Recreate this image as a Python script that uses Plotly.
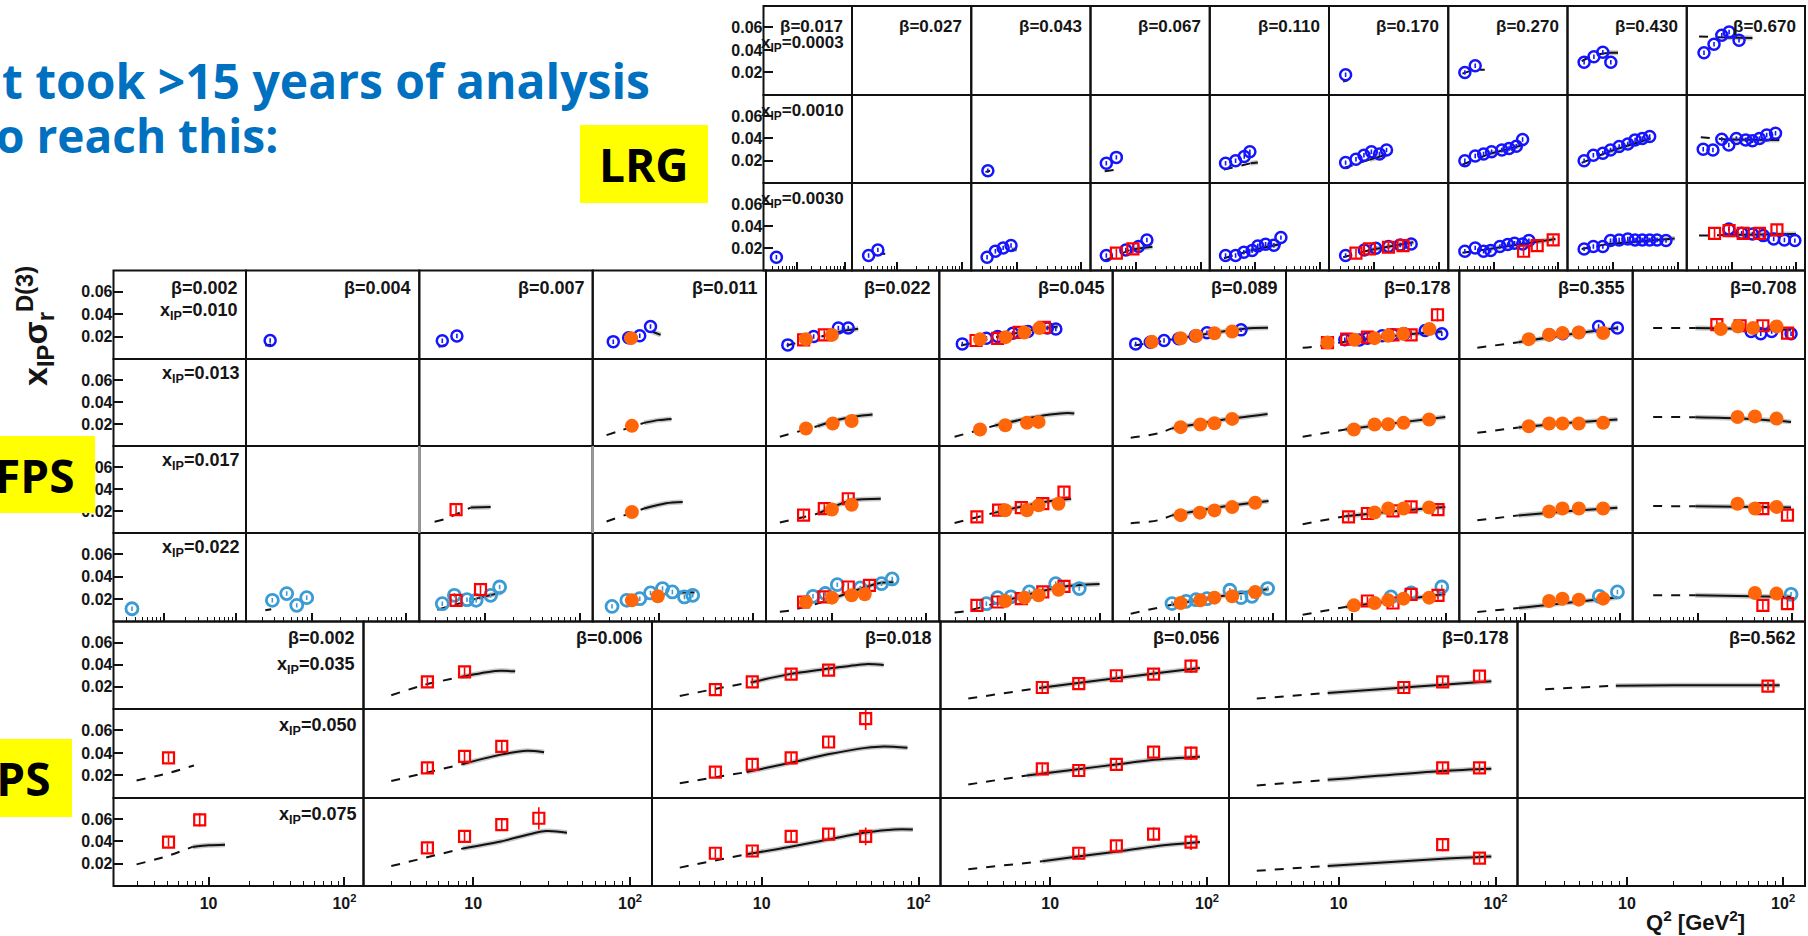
import plotly.graph_objects as go

FIG_W, FIG_H = 1808, 936

# Pixel geometry of the three panel grids (column and row edges)
TOP_X = [763.5, 852, 971.25, 1090.5, 1209.75, 1329, 1448.25, 1567.5, 1686.75, 1805]
TOP_Y = [6, 95, 183, 270.5]
MID_X = [113.5, 246, 419.3, 592.7, 766, 939.3, 1112.7, 1286, 1459.3, 1632.7, 1805]
MID_Y = [270.5, 359, 446, 533, 621.5]
BOT_X = [113.5, 363.5, 652, 940.5, 1229, 1517.5, 1805]
BOT_Y = [621.5, 709, 798, 886]

XLOG_RANGE = [0.30, 2.14]
Y_RANGE = [0.0, 0.079]
SPLIT_Q2 = 7.0   # fit curve drawn dashed below this Q2, solid above

# ---------------- labels ----------------
TOP_BETA = ["0.017", "0.027", "0.043", "0.067", "0.110", "0.170", "0.270", "0.430", "0.670"]
TOP_XIP = ["0.0003", "0.0010", "0.0030"]
MID_BETA = ["0.002", "0.004", "0.007", "0.011", "0.022", "0.045", "0.089", "0.178", "0.355", "0.708"]
MID_XIP = ["0.010", "0.013", "0.017", "0.022"]
BOT_BETA = ["0.002", "0.006", "0.018", "0.056", "0.178", "0.562"]
BOT_XIP = ["0.035", "0.050", "0.075"]
Y_TICKS = [0.02, 0.04, 0.06]
Y_TICK_TEXT = ["0.02", "0.04", "0.06"]
X_MAJOR = [10, 100]
X_MAJOR_TEXT = ["10", "10<sup>2</sup>"]
X_MINOR = [2, 3, 4, 5, 6, 7, 8, 9, 20, 30, 40, 50, 60, 70, 80, 90]

# ---------------- data: (Q2, x_IP*sigma_r[, error]) per (row, col) ----------------
TOP_LRG = {
    (0, 5): [(3.6, 0.018)],
    (0, 6): [(3.6, 0.020), (5.2, 0.026)],
    (0, 7): [(3.6, 0.029), (5.1, 0.034), (7.0, 0.038), (9.3, 0.029)],
    (0, 8): [(3.7, 0.0375), (5.3, 0.045), (7.0, 0.053), (9.1, 0.056), (13, 0.0486)],
    (1, 2): [(3.6, 0.011)],
    (1, 3): [(3.5, 0.0177), (5.0, 0.023)],
    (1, 4): [(3.5, 0.0177), (5.0, 0.020), (6.8, 0.0237), (8.3, 0.028)],
    (1, 5): [(3.6, 0.0183), (5.2, 0.0213), (6.9, 0.025), (9.0, 0.028), (12, 0.026), (15.4, 0.0297)],
    (1, 6): [(3.6, 0.020), (5.2, 0.0243), (7.0, 0.026), (9.3, 0.028), (13.4, 0.0297), (17.3, 0.031),
             (22.4, 0.033), (28, 0.039)],
    (1, 7): [(3.6, 0.020), (5.0, 0.025), (7.0, 0.0267), (9.2, 0.0297), (12.5, 0.0327), (17, 0.035),
             (22, 0.0387), (28.5, 0.040), (37, 0.0417)],
    (1, 8): [(3.6, 0.0303), (5.1, 0.0297), (7.0, 0.0393), (9.0, 0.0342), (11.8, 0.040), (16.5, 0.0387),
             (21, 0.038), (27, 0.040), (35, 0.043), (48, 0.0447)],
    (2, 0): [(3.7, 0.012)],
    (2, 1): [(3.6, 0.0135), (5.0, 0.0186)],
    (2, 2): [(3.5, 0.012), (4.7, 0.0174), (6.2, 0.0204), (8.2, 0.0225)],
    (2, 3): [(3.5, 0.0135), (7.0, 0.0186), (11, 0.0216), (14.8, 0.0276)],
    (2, 4): [(3.5, 0.0135), (5.0, 0.0135), (6.7, 0.0165), (9.0, 0.018), (11, 0.0222), (14.5, 0.0237),
             (19.5, 0.0228), (25, 0.0297)],
    (2, 5): [(3.6, 0.0135), (7.0, 0.0186), (10.5, 0.020), (16.5, 0.0216), (25, 0.023), (37, 0.024)],
    (2, 6): [(3.6, 0.0174), (5.2, 0.0204), (7.0, 0.0174), (9.0, 0.018), (12.5, 0.0216), (16.5, 0.0234),
             (21, 0.0246), (28, 0.024), (35, 0.027)],
    (2, 7): [(3.6, 0.0195), (5.0, 0.0216), (7.0, 0.0216), (9.2, 0.027), (12.5, 0.0276), (17, 0.0285),
             (22, 0.0276), (28.5, 0.0276), (37, 0.0276), (48, 0.0276), (66, 0.027)],
    (2, 8): [(9.0, 0.0375), (14.3, 0.0336), (21, 0.033), (31, 0.0315), (45, 0.0285), (66, 0.0276),
             (96, 0.027)],
}
TOP_FPS = {
    (2, 3): [(5.0, 0.0156, 0.004), (9.0, 0.0195, 0.004)],
    (2, 5): [(5.2, 0.0156, 0.004), (8.4, 0.0195, 0.004), (16.5, 0.021, 0.004), (27.7, 0.0225, 0.004)],
    (2, 6): [(29, 0.0174, 0.004), (47, 0.0225, 0.004), (83, 0.0276, 0.004)],
    (2, 8): [(5.4, 0.0336, 0.004), (9.1, 0.036, 0.004), (15.1, 0.0336, 0.004), (27, 0.0336, 0.004),
             (50.5, 0.0366, 0.005)],
}
TOP_FIT = {
    (0, 5): [(3.3, 0.012), (3.9, 0.013)],
    (0, 6): [(3.3, 0.019), (5.0, 0.022), (7.3, 0.0225)],
    (0, 7): [(3.3, 0.030), (5.0, 0.035), (8.5, 0.0375), (12, 0.0375)],
    (0, 8): [(3.1, 0.052), (8.5, 0.051), (21, 0.0505)],
    (1, 2): [(3.3, 0.010), (3.9, 0.011)],
    (1, 3): [(3.3, 0.0105), (5.8, 0.0125)],
    (1, 4): [(3.3, 0.012), (8.5, 0.0177), (11, 0.0185)],
    (1, 5): [(3.4, 0.0135), (8.5, 0.021), (15.4, 0.0255)],
    (1, 6): [(3.3, 0.0165), (8.5, 0.026), (28, 0.034)],
    (1, 7): [(3.3, 0.018), (8.5, 0.028), (38, 0.040)],
    (1, 8): [(3.3, 0.041), (8.5, 0.039), (55, 0.0387)],
    (2, 1): [(5.5, 0.015), (6.5, 0.0152)],
    (2, 2): [(8.4, 0.019), (10, 0.019)],
    (2, 3): [(3.3, 0.009), (8.5, 0.019), (18, 0.0215)],
    (2, 4): [(3.3, 0.011), (8.5, 0.018), (25, 0.024)],
    (2, 5): [(3.3, 0.012), (8.5, 0.0185), (40, 0.0255)],
    (2, 6): [(3.3, 0.016), (8.5, 0.0195), (90, 0.0285)],
    (2, 7): [(3.3, 0.0195), (8.5, 0.024), (90, 0.0288)],
    (2, 8): [(3.1, 0.0315), (8.5, 0.032), (100, 0.033)],
}

MID_LRG = {
    (0, 1): [(3.6, 0.0165)],
    (0, 2): [(3.5, 0.0162), (5.0, 0.0206)],
    (0, 3): [(3.3, 0.0155), (4.8, 0.019), (6.3, 0.0207), (8.2, 0.029)],
    (0, 4): [(3.4, 0.0126), (6.4, 0.020), (11.7, 0.0276), (14.9, 0.0276)],
    (0, 5): [(3.5, 0.0135), (6.3, 0.0185), (8.3, 0.0201), (12, 0.023), (17.4, 0.0246), (28, 0.0276),
             (34.4, 0.0267)],
    (0, 6): [(3.5, 0.0135), (5.0, 0.015), (7.0, 0.0165), (10, 0.018), (15, 0.0205), (20, 0.0235),
             (46, 0.026)],
    (0, 7): [(8.4, 0.0171), (12, 0.017), (14.6, 0.0186), (21, 0.0207), (27.3, 0.0216), (36, 0.0225),
             (60, 0.0255), (90, 0.0225)],
    (0, 8): [(18, 0.0216), (25, 0.0225), (37, 0.0237), (60, 0.029), (95, 0.0276)],
    (0, 9): [(36.7, 0.0246), (46.5, 0.0225), (60.8, 0.0246), (98, 0.0225)],
}
MID_FPS2 = {
    (0, 3): [(5.1, 0.0186)],
    (0, 4): [(5.3, 0.0177), (10, 0.0215)],
    (0, 5): [(5.4, 0.0177), (10.1, 0.0195), (15.9, 0.0237), (23, 0.0276)],
    (0, 6): [(5.2, 0.0153), (10.5, 0.0185), (15.4, 0.0207), (24, 0.023), (37, 0.0245)],
    (0, 7): [(5.5, 0.0147), (10.7, 0.0171), (17.4, 0.0186), (24.3, 0.0207), (35, 0.0225), (66.5, 0.0267)],
    (0, 8): [(10.9, 0.0177), (17.9, 0.0216), (24.8, 0.0231), (37, 0.0237), (67, 0.0231)],
    (0, 9): [(17.4, 0.0267), (26.6, 0.0291), (38.4, 0.0276), (68.6, 0.0291)],
    (1, 3): [(5.2, 0.0183)],
    (1, 4): [(5.3, 0.0159), (10.2, 0.0204), (16.2, 0.0227)],
    (1, 5): [(5.4, 0.015), (10, 0.0189), (17, 0.021), (22.6, 0.0219)],
    (1, 6): [(10.5, 0.0171), (17, 0.0195), (24, 0.0207), (37, 0.0246)],
    (1, 7): [(10.5, 0.015), (17.4, 0.0195), (24.3, 0.0198), (35.3, 0.021), (66, 0.024)],
    (1, 8): [(10.9, 0.018), (17.9, 0.0204), (24.8, 0.0204), (37, 0.0204), (67, 0.021)],
    (1, 9): [(26.3, 0.0263), (40.3, 0.0269), (68.5, 0.0249)],
    (2, 3): [(5.2, 0.0191)],
    (2, 4): [(10, 0.0213), (16.2, 0.0257)],
    (2, 5): [(10, 0.0207), (17, 0.0207), (22.6, 0.0251), (36.7, 0.0266)],
    (2, 6): [(10.5, 0.0162), (16.8, 0.0185), (24, 0.0205), (37, 0.0235), (65, 0.0275)],
    (2, 7): [(17.4, 0.0186), (24.3, 0.0222), (35.3, 0.0222), (66, 0.0231)],
    (2, 8): [(17.9, 0.0195), (24.8, 0.0222), (37, 0.0222), (67, 0.0222)],
    (2, 9): [(26.3, 0.0266), (40.3, 0.0222), (68.5, 0.0237)],
    (3, 3): [(5.2, 0.0189), (9.8, 0.0225)],
    (3, 4): [(5.3, 0.0174), (10, 0.0213), (16.2, 0.0234), (22.3, 0.0243)],
    (3, 5): [(10, 0.0183), (16, 0.0213), (22.6, 0.0234), (36.7, 0.0284)],
    (3, 6): [(10.5, 0.0165), (17, 0.019), (24, 0.0213), (37, 0.0225), (65, 0.0264)],
    (3, 7): [(10.5, 0.0144), (17.4, 0.0165), (24.3, 0.0189), (35.3, 0.0204), (66, 0.0213)],
    (3, 8): [(17.9, 0.0183), (24.8, 0.0204), (37, 0.0195), (67, 0.0204)],
    (3, 9): [(40.3, 0.0255), (68.5, 0.0249)],
}
MID_FPS1 = {
    (0, 4): [(5.0, 0.0171, 0.004), (8.3, 0.0215, 0.004)],
    (0, 5): [(4.9, 0.0165, 0.004), (8.3, 0.0185, 0.004), (14.1, 0.0237, 0.004), (26, 0.0282, 0.004)],
    (0, 7): [(5.5, 0.0147, 0.004), (8.8, 0.0177, 0.004), (14.6, 0.0195, 0.004), (27.3, 0.0216, 0.004),
             (42.5, 0.0216, 0.004), (81, 0.0395, 0.006)],
    (0, 9): [(15.8, 0.0306, 0.004), (28, 0.0297, 0.004), (49, 0.0297, 0.004), (90, 0.0231, 0.004)],
    (2, 2): [(4.9, 0.0213, 0.004)],
    (2, 4): [(5.0, 0.0162, 0.004), (8.3, 0.0222, 0.004), (14.9, 0.0311, 0.004)],
    (2, 5): [(5.0, 0.0147, 0.004), (8.5, 0.0207, 0.004), (14.8, 0.0231, 0.004), (25, 0.0266, 0.004),
             (42, 0.0371, 0.004)],
    (2, 7): [(9.2, 0.0147, 0.004), (14.6, 0.0177, 0.004), (27.3, 0.0201, 0.004), (42.5, 0.0237, 0.004),
             (82, 0.0213, 0.004)],
    (2, 9): [(49, 0.0222, 0.004), (89.7, 0.0162, 0.004)],
    (3, 2): [(4.9, 0.0189, 0.004), (8.9, 0.0284, 0.004)],
    (3, 4): [(5.0, 0.0174, 0.004), (8.2, 0.0219, 0.004), (14.9, 0.0308, 0.004), (25, 0.0323, 0.004)],
    (3, 5): [(5.0, 0.0144, 0.004), (8.3, 0.0174, 0.004), (14.8, 0.0204, 0.004), (25, 0.0264, 0.004),
             (42, 0.0314, 0.004)],
    (3, 7): [(14.6, 0.0183, 0.004), (27.3, 0.0165, 0.004), (42.5, 0.0243, 0.004), (82, 0.0234, 0.004)],
    (3, 9): [(49, 0.0144, 0.004), (89.7, 0.0159, 0.004)],
}
MID_LRG2 = {
    (3, 0): [(3.6, 0.0114)],
    (3, 1): [(3.8, 0.0189), (5.4, 0.0249), (6.9, 0.0144), (8.8, 0.0213)],
    (3, 2): [(3.5, 0.0159), (4.7, 0.0234), (6.4, 0.0195), (8.0, 0.0189), (11.4, 0.0234), (14.2, 0.0308)],
    (3, 3): [(3.2, 0.0135), (4.6, 0.0189), (6.3, 0.0204), (8.2, 0.0255), (11, 0.0294), (14, 0.0264),
             (18.8, 0.0219), (23, 0.0234)],
    (3, 4): [(6.3, 0.0225), (8.5, 0.025), (11.4, 0.0329), (20, 0.030), (33.6, 0.0338), (43.6, 0.038)],
    (3, 5): [(6.3, 0.0159), (8.3, 0.0213), (11.5, 0.022), (18, 0.0264), (34.3, 0.0338), (61, 0.0294)],
    (3, 6): [(8.5, 0.016), (12, 0.018), (15.3, 0.0195), (20, 0.0204), (35, 0.0279), (46, 0.0213),
             (60, 0.0225), (88, 0.0294)],
    (3, 7): [(26, 0.0219), (42.5, 0.0255), (90, 0.0308)],
    (3, 8): [(61, 0.0225), (95, 0.0264)],
    (3, 9): [(98, 0.0243)],
}
MID_FIT = {
    (0, 1): [(3.2, 0.012), (3.7, 0.013)],
    (0, 2): [(3.2, 0.011), (3.8, 0.0125)],
    (0, 3): [(8.5, 0.0245), (10.5, 0.0215)],
    (0, 4): [(3.3, 0.012), (8.5, 0.021), (13, 0.025), (19, 0.027)],
    (0, 5): [(3.4, 0.012), (8.5, 0.020), (20, 0.026), (36, 0.029)],
    (0, 6): [(3.4, 0.012), (8.5, 0.0175), (50, 0.027), (89, 0.0278)],
    (0, 7): [(3.0, 0.010), (4.4, 0.0115), (8.5, 0.0155), (30, 0.021), (90, 0.0245)],
    (0, 8): [(3.1, 0.010), (8.5, 0.015), (30, 0.022), (95, 0.0276)],
    (0, 9): [(3.3, 0.0276), (9.3, 0.0276), (30, 0.027), (98, 0.026)],
    (1, 3): [(2.8, 0.0099), (3.6, 0.0129), (7.0, 0.0210), (10, 0.0235), (13.7, 0.0246)],
    (1, 4): [(2.8, 0.0084), (7.0, 0.018), (12, 0.024), (20, 0.0275), (27, 0.0287)],
    (1, 5): [(2.9, 0.0084), (7.8, 0.0186), (15, 0.024), (30, 0.0285), (46, 0.0299), (54, 0.0295)],
    (1, 6): [(3.1, 0.0075), (6.0, 0.0114), (8.5, 0.016), (25, 0.023), (88, 0.0291)],
    (1, 7): [(3.0, 0.0084), (8.5, 0.0150), (30, 0.021), (98, 0.0264)],
    (1, 8): [(3.1, 0.012), (8.5, 0.0168), (30, 0.021), (95, 0.024)],
    (1, 9): [(3.3, 0.0263), (9.3, 0.0262), (30, 0.025), (98, 0.0219)],
    (2, 2): [(2.9, 0.0102), (3.7, 0.0125), (7.0, 0.0231), (11.4, 0.0235)],
    (2, 3): [(2.8, 0.0105), (7.0, 0.0222), (12, 0.027), (18, 0.0281)],
    (2, 4): [(2.8, 0.0095), (7.0, 0.0174), (16, 0.0295), (33, 0.0311)],
    (2, 5): [(2.9, 0.009), (7.8, 0.0185), (25, 0.028), (50, 0.0311)],
    (2, 6): [(3.1, 0.0088), (6.0, 0.0115), (8.5, 0.016), (30, 0.024), (90, 0.029)],
    (2, 7): [(3.0, 0.008), (8.5, 0.0153), (30, 0.020), (98, 0.0237)],
    (2, 8): [(3.1, 0.0115), (8.5, 0.016), (30, 0.020), (95, 0.0230)],
    (2, 9): [(3.3, 0.0245), (9.3, 0.0242), (98, 0.0232)],
    (3, 1): [(3.2, 0.010), (3.7, 0.011)],
    (3, 2): [(3.1, 0.0105), (8.5, 0.021), (15, 0.026)],
    (3, 3): [(16, 0.0258), (24, 0.0258)],
    (3, 4): [(2.8, 0.0088), (3.6, 0.0098), (8.5, 0.018), (33, 0.0345), (45, 0.035)],
    (3, 5): [(2.9, 0.008), (3.7, 0.009), (8.5, 0.017), (40, 0.031), (100, 0.0335)],
    (3, 6): [(3.1, 0.007), (8.5, 0.015), (30, 0.023), (90, 0.029)],
    (3, 7): [(3.0, 0.006), (8.5, 0.013), (30, 0.019), (98, 0.0245)],
    (3, 8): [(3.1, 0.0085), (8.5, 0.012), (30, 0.017), (95, 0.0215)],
    (3, 9): [(3.3, 0.0235), (9.3, 0.0235), (98, 0.022)],
}

BOT_FPS = {
    (0, 1): [(5.1, 0.0245, 0.004), (8.8, 0.0336, 0.004)],
    (0, 2): [(5.06, 0.0175, 0.004), (8.7, 0.0245, 0.004), (15.4, 0.0315, 0.004), (26.7, 0.0351, 0.004)],
    (0, 3): [(8.9, 0.0194, 0.004), (15.2, 0.0230, 0.004), (26.4, 0.0300, 0.004), (45.6, 0.0315, 0.004),
             (79, 0.0388, 0.006)],
    (0, 4): [(26, 0.0194, 0.004), (46, 0.0245, 0.004), (79, 0.0297, 0.004)],
    (0, 5): [(80, 0.0206, 0.004)],
    (1, 0): [(5.07, 0.0357, 0.004)],
    (1, 1): [(5.1, 0.0268, 0.004), (8.8, 0.0369, 0.004), (15.2, 0.0458, 0.005)],
    (1, 2): [(5.06, 0.0230, 0.004), (8.7, 0.0299, 0.004), (15.4, 0.0357, 0.004), (26.7, 0.0497, 0.005),
             (46, 0.0704, 0.010)],
    (1, 3): [(8.9, 0.0259, 0.004), (15.2, 0.0244, 0.004), (26.4, 0.0299, 0.004), (45.6, 0.0407, 0.004),
             (79, 0.0398, 0.006)],
    (1, 4): [(46, 0.0268, 0.004), (79, 0.0268, 0.004)],
    (2, 0): [(5.07, 0.0394, 0.004), (8.6, 0.0594, 0.006)],
    (2, 1): [(5.1, 0.0342, 0.004), (8.8, 0.0445, 0.004), (15.2, 0.0551, 0.005), (26.2, 0.0608, 0.010)],
    (2, 2): [(5.06, 0.0294, 0.004), (8.7, 0.0314, 0.004), (15.4, 0.0445, 0.004), (26.7, 0.0465, 0.005),
             (46, 0.0445, 0.008)],
    (2, 3): [(15.2, 0.0294, 0.004), (26.4, 0.0360, 0.004), (45.6, 0.0465, 0.006), (79, 0.0394, 0.007)],
    (2, 4): [(46, 0.0371, 0.006), (79, 0.0251, 0.004)],
}
BOT_FIT = {
    (0, 1): [(3.0, 0.0124), (4.8, 0.0215), (8.3, 0.029), (12.5, 0.0335), (15, 0.0345), (18.5, 0.034)],
    (0, 2): [(3.0, 0.0118), (5.0, 0.018), (8.5, 0.024), (15, 0.0315), (27, 0.0365), (46, 0.0405),
             (60, 0.0397)],
    (0, 3): [(3.0, 0.0094), (8.5, 0.019), (15, 0.0235), (27, 0.028), (46, 0.032), (90, 0.037)],
    (0, 4): [(3.0, 0.0094), (8.5, 0.0145), (26, 0.0195), (46, 0.022), (94, 0.0251)],
    (0, 5): [(3.0, 0.0179), (8.5, 0.0210), (20, 0.0215), (95, 0.0215)],
    (1, 0): [(2.95, 0.0156), (5.0, 0.022), (7.8, 0.0289)],
    (1, 1): [(3.0, 0.0151), (8.5, 0.0300), (15, 0.0385), (22, 0.042), (28.3, 0.0407)],
    (1, 2): [(3.0, 0.0131), (8.0, 0.023), (15, 0.031), (27, 0.039), (46, 0.0445), (60, 0.0458),
             (85, 0.0446)],
    (1, 3): [(3.0, 0.0120), (7.1, 0.020), (15, 0.0255), (27, 0.030), (46, 0.034), (90, 0.0367)],
    (1, 4): [(3.0, 0.0111), (8.5, 0.0161), (46, 0.024), (94, 0.0259)],
    (2, 0): [(2.95, 0.0194), (5.0, 0.027), (7.6, 0.0351), (10, 0.0365), (13.2, 0.037)],
    (2, 1): [(3.0, 0.0179), (8.6, 0.0337), (15, 0.040), (29, 0.0494), (39.6, 0.0479)],
    (2, 2): [(3.0, 0.0165), (8.0, 0.0285), (15, 0.035), (27, 0.042), (46, 0.048), (70, 0.0508),
             (92, 0.0508)],
    (2, 3): [(3.0, 0.0151), (8.9, 0.0222), (15, 0.0265), (27, 0.031), (46, 0.0355), (90, 0.0394)],
    (2, 4): [(3.0, 0.0137), (8.5, 0.0180), (46, 0.0245), (94, 0.0265)],
}

# ---------------- styles ----------------
LINE_COL = "#111111"
TXT_COL = "#151515"
FONT = "Liberation Sans, Arial, sans-serif"
BLUE = "#1414ff"
LIGHT_BLUE = "#3a9bd5"
ORANGE = "#ff660a"
RED = "#ff0000"

fig = go.Figure()
axes = {}
refs = {}
frames = []
counter = [0]


def px_x(v):
    return v / FIG_W


def px_y(v):
    return 1 - v / FIG_H


def make_panel(block, r, c, x0, x1, y0, y1, first_col, last_row, xlabels):
    counter[0] += 1
    k = counter[0]
    s = "" if k == 1 else str(k)
    xa = dict(domain=[px_x(x0), px_x(x1)], type="log", range=XLOG_RANGE, anchor="y" + s,
              showline=False, showgrid=False, zeroline=False, fixedrange=True)
    if last_row:
        xa.update(ticks="inside", tickmode="array", tickvals=X_MAJOR, ticktext=X_MAJOR_TEXT,
                  ticklen=9, tickwidth=1.5, tickcolor=LINE_COL,
                  minor=dict(ticks="inside", tickmode="array", tickvals=X_MINOR, ticklen=5,
                             tickwidth=1.3, tickcolor=LINE_COL, showgrid=False),
                  showticklabels=xlabels,
                  tickfont=dict(family=FONT, size=16, color=TXT_COL, weight="bold"),
                  ticklabelstandoff=6)
    else:
        xa.update(ticks="", showticklabels=False, minor=dict(ticks=""))
    ya = dict(domain=[px_y(y1), px_y(y0)], range=Y_RANGE, anchor="x" + s,
              showline=False, showgrid=False, zeroline=False, fixedrange=True)
    if first_col:
        ya.update(ticks="inside", tickmode="array", tickvals=Y_TICKS, ticktext=Y_TICK_TEXT,
                  ticklen=9, tickwidth=1.5, tickcolor=LINE_COL, showticklabels=True,
                  tickfont=dict(family=FONT, size=16, color=TXT_COL, weight="bold"))
    else:
        ya.update(ticks="", showticklabels=False)
    axes["xaxis" + s] = xa
    axes["yaxis" + s] = ya
    refs[(block, r, c)] = ("x" + s, "y" + s)
    # an invisible point so every subplot (and its ticks) is rendered
    fig.add_trace(go.Scatter(x=[10], y=[-1], xaxis="x" + s, yaxis="y" + s, mode="markers",
                             marker=dict(opacity=0), hoverinfo="skip"))
    frames.append(dict(type="rect", xref="paper", yref="paper", x0=px_x(x0), x1=px_x(x1),
                       y0=px_y(y1), y1=px_y(y0), line=dict(color=LINE_COL, width=2),
                       fillcolor="rgba(0,0,0,0)", layer="above"))


def build_grid(block, xs, ys, xlabels):
    nr, nc = len(ys) - 1, len(xs) - 1
    for r in range(nr):
        for c in range(nc):
            make_panel(block, r, c, xs[c], xs[c + 1], ys[r], ys[r + 1],
                       c == 0, r == nr - 1, xlabels and r == nr - 1)


build_grid("top", TOP_X, TOP_Y, False)
build_grid("mid", MID_X, MID_Y, False)
build_grid("bot", BOT_X, BOT_Y, True)


def add_curve(block, key, pts):
    xr, yr = refs[(block,) + key]
    q = [p[0] for p in pts]
    v = [p[1] for p in pts]
    n = len(q)
    # first node at or above the split: dashed up to it, solid from it onwards
    j = min([i for i in range(n) if q[i] >= SPLIT_Q2], default=n - 1)
    if q[0] < SPLIT_Q2 and j >= 1:
        fig.add_trace(go.Scatter(x=q[:j + 1], y=v[:j + 1], xaxis=xr, yaxis=yr, mode="lines",
                                 line=dict(color=LINE_COL, width=2, dash="9px,9px", shape="spline",
                                           smoothing=0.8),
                                 hoverinfo="skip"))
    if q[-1] > SPLIT_Q2 and n - j >= 2:
        qs, vs = q[j:], v[j:]
        fig.add_trace(go.Scatter(x=qs, y=vs, xaxis=xr, yaxis=yr, mode="lines",
                                 line=dict(color="rgba(0,0,0,0.22)", width=5, shape="spline",
                                           smoothing=0.8),
                                 hoverinfo="skip"))
        fig.add_trace(go.Scatter(x=qs, y=vs, xaxis=xr, yaxis=yr, mode="lines",
                                 line=dict(color=LINE_COL, width=2, shape="spline", smoothing=0.8),
                                 hoverinfo="skip"))


def add_points(block, key, pts, symbol, color, size, lw, err=None):
    xr, yr = refs[(block,) + key]
    q = [p[0] for p in pts]
    v = [p[1] for p in pts]
    e = [p[2] for p in pts] if len(pts[0]) > 2 else ([err] * len(pts) if err else None)
    marker = dict(symbol=symbol, size=size, color=color)
    if symbol.endswith("open"):
        marker["line"] = dict(color=color, width=lw)
    tr = dict(x=q, y=v, xaxis=xr, yaxis=yr, mode="markers", marker=marker, hoverinfo="skip")
    if e:
        tr["error_y"] = dict(type="data", array=e, visible=True, color=color, thickness=1.6, width=0)
    fig.add_trace(go.Scatter(**tr))


for key, pts in TOP_FIT.items():
    add_curve("top", key, pts)
for key, pts in MID_FIT.items():
    add_curve("mid", key, pts)
for key, pts in BOT_FIT.items():
    add_curve("bot", key, pts)

for key, pts in TOP_LRG.items():
    add_points("top", key, pts, "circle-open", BLUE, 11, 2.5, err=0.002)
for key, pts in MID_LRG.items():
    add_points("mid", key, pts, "circle-open", BLUE, 11, 2.5, err=0.002)
for key, pts in MID_LRG2.items():
    add_points("mid", key, pts, "circle-open", LIGHT_BLUE, 12, 2.8, err=0.002)
for key, pts in TOP_FPS.items():
    add_points("top", key, pts, "square-open", RED, 11, 2.2)
for key, pts in MID_FPS1.items():
    add_points("mid", key, pts, "square-open", RED, 11, 2.2)
for key, pts in BOT_FPS.items():
    add_points("bot", key, pts, "square-open", RED, 11, 2.2)
for key, pts in MID_FPS2.items():
    add_points("mid", key, pts, "circle", ORANGE, 14, 0)

# ---------------- annotations ----------------
ann = []


def label(text, x, y, size, xanchor="right"):
    ann.append(dict(text=text, x=px_x(x), y=px_y(y), xref="paper", yref="paper",
                    xanchor=xanchor, yanchor="middle", showarrow=False,
                    font=dict(family=FONT, size=size, color=TXT_COL, weight="bold")))


for c, b in enumerate(TOP_BETA):
    label(f"β={b}", TOP_X[c + 1] - 7, TOP_Y[0] + 20, 17)
label(f"x<sub>IP</sub>={TOP_XIP[0]}", TOP_X[1] - 6, TOP_Y[0] + 38, 17)
for r in (1, 2):
    label(f"x<sub>IP</sub>={TOP_XIP[r]}", TOP_X[1] - 6, TOP_Y[r] + 17, 17)

for c, b in enumerate(MID_BETA):
    label(f"β={b}", MID_X[c + 1] - 6, MID_Y[0] + 17.5, 18)
label(f"x<sub>IP</sub>={MID_XIP[0]}", MID_X[1] - 7, MID_Y[0] + 41, 18)
for r in (1, 2, 3):
    label(f"x<sub>IP</sub>={MID_XIP[r]}", MID_X[1] - 5, MID_Y[r] + 15.5, 18)

for c, b in enumerate(BOT_BETA):
    label(f"β={b}", BOT_X[c + 1] - 7, BOT_Y[0] + 16.5, 18)
label(f"x<sub>IP</sub>={BOT_XIP[0]}", BOT_X[1] - 8, BOT_Y[0] + 43.5, 18)
for r in (1, 2):
    label(f"x<sub>IP</sub>={BOT_XIP[r]}", BOT_X[1] - 6, BOT_Y[r] + 17.5, 18)

# axis titles
ann.append(dict(text="x<sub>IP</sub>σ<sub>r</sub><sup>D(3)</sup>", x=px_x(35), y=px_y(326),
                xref="paper", yref="paper", xanchor="center", yanchor="middle", textangle=-90,
                showarrow=False, font=dict(family=FONT, size=34, color=TXT_COL, weight="bold")))
ann.append(dict(text="Q<sup>2</sup> [GeV<sup>2</sup>]", x=px_x(1695), y=px_y(921),
                xref="paper", yref="paper", xanchor="center", yanchor="middle",
                showarrow=False, font=dict(family=FONT, size=22, color=TXT_COL, weight="bold")))

# slide heading
ann.append(dict(text="It took >15 years of analysis", x=px_x(-16), y=px_y(80), xref="paper",
                yref="paper", xanchor="left", yanchor="middle", showarrow=False,
                font=dict(family="Open Sans, sans-serif", size=48, color="#0070c0", weight="bold")))
ann.append(dict(text="to reach this:", x=px_x(-26), y=px_y(135), xref="paper",
                yref="paper", xanchor="left", yanchor="middle", showarrow=False,
                font=dict(family="Open Sans, sans-serif", size=46, color="#0070c0", weight="bold")))

# yellow tags
TAG_FONT = dict(family="Open Sans, sans-serif", size=46, color="black", weight="bold")
tags = [
    dict(type="rect", xref="paper", yref="paper", x0=px_x(580), x1=px_x(708), y0=px_y(203),
         y1=px_y(125), fillcolor="#ffff00", line=dict(width=0), layer="below"),
    dict(type="rect", xref="paper", yref="paper", x0=px_x(-5), x1=px_x(95), y0=px_y(513),
         y1=px_y(436), fillcolor="#ffff00", line=dict(width=0), layer="above"),
    dict(type="rect", xref="paper", yref="paper", x0=px_x(-5), x1=px_x(72), y0=px_y(817),
         y1=px_y(739), fillcolor="#ffff00", line=dict(width=0), layer="above"),
]
# lighter frame edges of one FPS panel
grey_edges = [
    dict(type="line", xref="paper", yref="paper", x0=px_x(419.3), x1=px_x(419.3), y0=px_y(533),
         y1=px_y(446), line=dict(color="#9a9a9a", width=2.5), layer="above"),
    dict(type="line", xref="paper", yref="paper", x0=px_x(592.7), x1=px_x(592.7), y0=px_y(533),
         y1=px_y(446), line=dict(color="#9a9a9a", width=2.5), layer="above"),
]
ann.append(dict(text="LRG", x=px_x(644), y=px_y(164), xref="paper", yref="paper",
                xanchor="center", yanchor="middle", showarrow=False, font=TAG_FONT))
ann.append(dict(text="FPS", x=px_x(76), y=px_y(475), xref="paper", yref="paper",
                xanchor="right", yanchor="middle", showarrow=False, font=TAG_FONT))
ann.append(dict(text="FPS", x=px_x(52), y=px_y(778), xref="paper", yref="paper",
                xanchor="right", yanchor="middle", showarrow=False, font=TAG_FONT))

fig.update_layout(
    width=FIG_W, height=FIG_H, margin=dict(l=0, r=0, t=0, b=0),
    paper_bgcolor="white", plot_bgcolor="white", showlegend=False,
    annotations=ann, shapes=tags + frames + grey_edges, **axes,
)

fig.write_html("out.html")
